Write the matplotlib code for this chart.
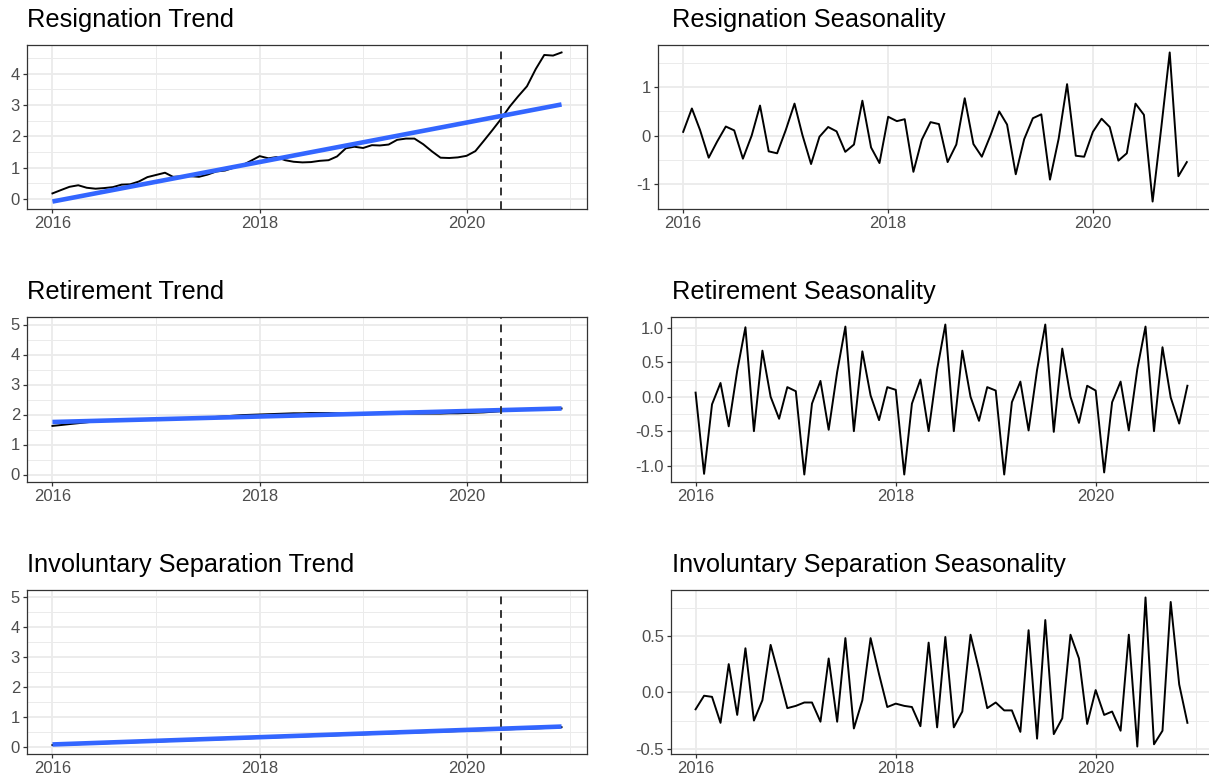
import matplotlib
matplotlib.use("Agg")
import matplotlib.pyplot as plt
import matplotlib.dates as mdates
from matplotlib.ticker import MultipleLocator, FixedLocator, FormatStrFormatter
import numpy as np
import pandas as pd
from datetime import datetime

plt.rcParams['font.family'] = ['Liberation Sans', 'DejaVu Sans']
plt.rcParams['axes.unicode_minus'] = False

# monthly observations, Jan 2016 - Dec 2020
months = pd.date_range('2016-01-01', periods=60, freq='MS')
cutoff = datetime(2020, 5, 1)

resign_trend = [0.18, 0.29, 0.39, 0.44, 0.36, 0.33, 0.35, 0.38, 0.46, 0.47, 0.56, 0.70,
                0.77, 0.84, 0.71, 0.72, 0.73, 0.71, 0.78, 0.88, 0.91, 1.00, 1.08, 1.22,
                1.37, 1.30, 1.34, 1.24, 1.19, 1.17, 1.18, 1.22, 1.24, 1.36, 1.62, 1.67,
                1.63, 1.72, 1.71, 1.74, 1.89, 1.93, 1.93, 1.75, 1.52, 1.32, 1.31, 1.33,
                1.38, 1.53, 1.85, 2.20, 2.55, 2.95, 3.28, 3.60, 4.15, 4.60, 4.58, 4.68]
retire_trend = [1.62, 1.65, 1.68, 1.71, 1.74, 1.77, 1.79, 1.81, 1.82, 1.83, 1.84, 1.85,
                1.86, 1.86, 1.87, 1.88, 1.88, 1.89, 1.90, 1.92, 1.94, 1.96, 1.98, 1.99,
                2.00, 2.01, 2.02, 2.03, 2.04, 2.04, 2.05, 2.05, 2.05, 2.04, 2.03, 2.03,
                2.02, 2.02, 2.02, 2.02, 2.03, 2.03, 2.03, 2.03, 2.03, 2.03, 2.04, 2.04,
                2.05, 2.06, 2.07, 2.09, 2.11, 2.13, 2.15, 2.16, 2.17, 2.18, 2.19, 2.20]
invol_trend = [0.05, 0.06, 0.07, 0.08, 0.09, 0.10, 0.11, 0.12, 0.13, 0.14, 0.15, 0.16,
               0.17, 0.18, 0.19, 0.20, 0.21, 0.22, 0.23, 0.24, 0.25, 0.26, 0.27, 0.28,
               0.29, 0.30, 0.31, 0.32, 0.33, 0.34, 0.35, 0.36, 0.37, 0.38, 0.39, 0.40,
               0.41, 0.42, 0.43, 0.44, 0.45, 0.46, 0.47, 0.48, 0.49, 0.50, 0.51, 0.52,
               0.53, 0.54, 0.55, 0.56, 0.57, 0.58, 0.59, 0.60, 0.61, 0.62, 0.63, 0.65]

resign_season = [0.08, 0.56, 0.12, -0.45, -0.12, 0.19, 0.11, -0.47, 0.00, 0.62, -0.32, -0.36,
                 0.12, 0.66, 0.02, -0.58, -0.02, 0.18, 0.09, -0.33, -0.18, 0.72, -0.24, -0.56,
                 0.39, 0.30, 0.34, -0.74, -0.08, 0.28, 0.24, -0.54, -0.18, 0.77, -0.17, -0.43,
                 0.01, 0.50, 0.23, -0.79, -0.07, 0.36, 0.44, -0.90, -0.06, 1.06, -0.41, -0.43,
                 0.08, 0.35, 0.18, -0.51, -0.36, 0.66, 0.43, -1.35, 0.17, 1.71, -0.83, -0.54]
retire_season = [0.06, -1.12, -0.11, 0.20, -0.43, 0.38, 1.01, -0.50, 0.67, 0.00, -0.32, 0.14,
                 0.08, -1.13, -0.10, 0.23, -0.48, 0.36, 1.02, -0.50, 0.66, 0.02, -0.34, 0.14,
                 0.10, -1.13, -0.10, 0.25, -0.50, 0.40, 1.05, -0.50, 0.67, 0.00, -0.35, 0.14,
                 0.09, -1.13, -0.08, 0.22, -0.49, 0.39, 1.05, -0.51, 0.70, 0.00, -0.38, 0.16,
                 0.09, -1.10, -0.08, 0.22, -0.49, 0.40, 1.02, -0.50, 0.72, -0.01, -0.39, 0.16]
invol_season = [-0.15, -0.03, -0.04, -0.27, 0.25, -0.20, 0.39, -0.25, -0.07, 0.42, 0.14, -0.14,
                -0.12, -0.09, -0.09, -0.26, 0.30, -0.26, 0.48, -0.32, -0.07, 0.48, 0.16, -0.13,
                -0.10, -0.12, -0.13, -0.30, 0.44, -0.31, 0.49, -0.31, -0.17, 0.51, 0.20, -0.14,
                -0.09, -0.16, -0.16, -0.35, 0.55, -0.41, 0.64, -0.37, -0.23, 0.51, 0.30, -0.28,
                0.02, -0.20, -0.17, -0.34, 0.51, -0.48, 0.84, -0.46, -0.34, 0.80, 0.07, -0.27]

# linear fit lines, start / end value
resign_fit = [-0.08, 3.02]
retire_fit = [1.75, 2.20]
invol_fit = [0.07, 0.67]

titles = ['Resignation Trend', 'Resignation Seasonality',
          'Retirement Trend', 'Retirement Seasonality',
          'Involuntary Separation Trend', 'Involuntary Separation Seasonality']

W, H = 1209, 784
fig = plt.figure(figsize=(W / 100, H / 100), dpi=100)

def px_axes(x0, y0, x1, y1):
    return fig.add_axes([x0 / W, 1 - y1 / H, (x1 - x0) / W, (y1 - y0) / H])

def style(ax, major, minor, fmt):
    ax.set_facecolor('white')
    for s in ax.spines.values():
        s.set_color('#333333')
        s.set_linewidth(0.9)
    ax.xaxis.set_major_locator(mdates.YearLocator(2))
    ax.xaxis.set_major_formatter(mdates.DateFormatter('%Y'))
    ax.xaxis.set_minor_locator(FixedLocator([mdates.date2num(datetime(y, 1, 1)) for y in (2015, 2017, 2019, 2021)]))
    ax.yaxis.set_major_locator(MultipleLocator(major))
    ax.yaxis.set_minor_locator(MultipleLocator(minor))
    ax.yaxis.set_major_formatter(FormatStrFormatter(fmt))
    ax.grid(which='major', color='#EBEBEB', lw=1.3, zorder=0)
    ax.grid(which='minor', color='#EBEBEB', lw=0.7, zorder=0)
    ax.set_axisbelow(True)
    ax.tick_params(which='major', length=3, width=0.9, color='#333333',
                   labelsize=12, labelcolor='#4D4D4D', pad=2)
    ax.tick_params(which='minor', length=0)

def title(x_px, y_px, text):
    # y_px is the baseline position in pixels from the top
    fig.text(x_px / W, 1 - y_px / H, text, fontsize=18.3, color='black',
             ha='left', va='baseline')

rows = [(45, 209), (317, 482), (590, 754)]
trend_data = [(resign_trend, resign_fit), (retire_trend, retire_fit), (invol_trend, invol_fit)]
season_data = [resign_season, retire_season, invol_season]
right_left = [658, 671, 671]
season_fmt = [('%d', 1, 0.5), ('%.1f', 0.5, 0.25), ('%.1f', 0.5, 0.25)]

for i, (y0, y1) in enumerate(rows):
    # trend panel
    ax = px_axes(27, y0, 587, y1)
    vals, fit = trend_data[i]
    ax.plot(months, vals, color='black', lw=1.4, zorder=3)
    ax.plot([months[0], months[-1]], fit, color='#3366FF', lw=3.3, zorder=4,
            solid_capstyle='butt')
    ax.axvline(cutoff, color='#333333', lw=1.4, ls=(0, (4, 3)), zorder=5)
    style(ax, 1, 0.5, '%d')
    if i > 0:
        ax.set_ylim(-0.25, 5.25)
    title(27, y0 - 18, titles[2 * i])

    # seasonality panel
    ax2 = px_axes(right_left[i], y0, 1212, y1)
    ax2.plot(months, season_data[i], color='black', lw=1.4, zorder=3)
    fmt, mj, mn = season_fmt[i]
    style(ax2, mj, mn, fmt)
    title(672, y0 - 18, titles[2 * i + 1])

fig.savefig('out.png', dpi=100)
